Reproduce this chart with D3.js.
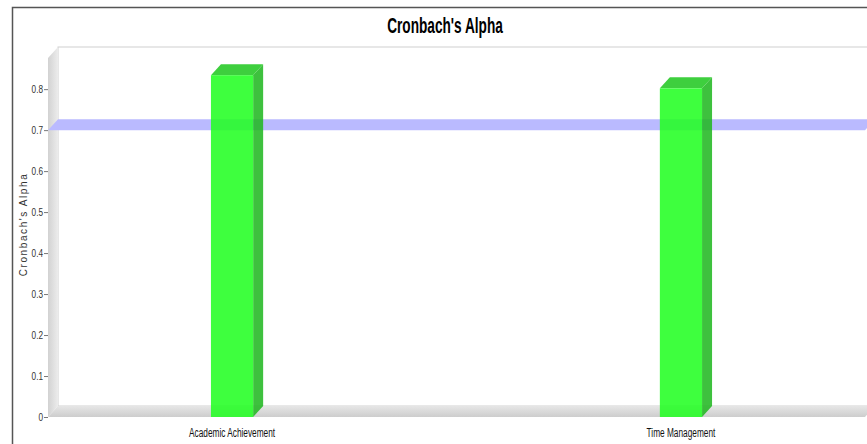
<!DOCTYPE html>
<html>
<head>
<meta charset="utf-8">
<script src="https://cdn.jsdelivr.net/npm/d3@7"></script>
<style>
  html, body { margin: 0; padding: 0; background: #fff; }
  svg { display: block; }
  text { font-family: "Liberation Sans", Arial, sans-serif; }
</style>
</head>
<body>
<div id="chart"></div>
<script>
const categories = ["Academic Achievement", "Time Management"];
const alphaValues = [0.834, 0.802];
const yTicks = [0, 0.1, 0.2, 0.3, 0.4, 0.5, 0.6, 0.7, 0.8];
const markerValues = [0.7];

const width = 867, height = 444;
const depth = { dx: 10, dy: -11 };
const plot = { left: 48, right: 865, top: 58, bottom: 417 };

const svg = d3.select("#chart").append("svg")
    .attr("width", width)
    .attr("height", height);

// squeeze text horizontally to mimic a narrow face
function condense(sel, factor) {
    sel.each(function () {
        const len = this.getComputedTextLength();
        d3.select(this)
            .attr("textLength", len * factor)
            .attr("lengthAdjust", "spacingAndGlyphs");
    });
}

const x = d3.scaleBand()
    .domain(categories)
    .range([plot.left, plot.right])
    .paddingInner(0.906)
    .paddingOuter(0.363);

const y = d3.scaleLinear()
    .domain([0, 0.876])
    .range([plot.bottom, plot.top]);

const poly = pts => pts.map(p => p.join(",")).join(" ");

// outer frame
svg.append("path")
    .attr("d", `M12.5,${height} V7.5 H${width}`)
    .attr("fill", "none")
    .attr("stroke", "#555")
    .attr("stroke-width", 1.5);

// title
svg.append("text")
    .attr("x", 445)
    .attr("y", 33)
    .attr("text-anchor", "middle")
    .attr("font-size", 22)
    .attr("font-weight", "bold")
    .attr("fill", "#000")
    .text("Cronbach's Alpha")
    .call(condense, 0.62);

const defs = svg.append("defs");
const wallGrad = defs.append("linearGradient").attr("id", "wallGrad")
    .attr("x1", 0).attr("x2", 1).attr("y1", 0).attr("y2", 0);
wallGrad.append("stop").attr("offset", "0%").attr("stop-color", "#d2d2d2");
wallGrad.append("stop").attr("offset", "100%").attr("stop-color", "#ececec");
const floorGrad = defs.append("linearGradient").attr("id", "floorGrad")
    .attr("x1", 0).attr("x2", 0).attr("y1", 0).attr("y2", 1);
floorGrad.append("stop").attr("offset", "0%").attr("stop-color", "#e6e6e6");
floorGrad.append("stop").attr("offset", "100%").attr("stop-color", "#cdcdcd");

// back wall
svg.append("rect")
    .attr("x", plot.left + depth.dx)
    .attr("y", plot.top + depth.dy)
    .attr("width", plot.right - plot.left)
    .attr("height", plot.bottom - plot.top)
    .attr("fill", "#fff")
    .attr("stroke", "#d0d0d0");

// left wall
svg.append("polygon")
    .attr("points", poly([
        [plot.left, plot.bottom], [plot.left, plot.top],
        [plot.left + depth.dx, plot.top + depth.dy], [plot.left + depth.dx, plot.bottom + depth.dy]
    ]))
    .attr("fill", "url(#wallGrad)");

// floor
svg.append("polygon")
    .attr("points", poly([
        [plot.left, plot.bottom], [plot.right, plot.bottom],
        [plot.right + depth.dx, plot.bottom + depth.dy], [plot.left + depth.dx, plot.bottom + depth.dy]
    ]))
    .attr("fill", "url(#floorGrad)");

// 0.7 reference marker
svg.append("g").selectAll("polygon")
    .data(markerValues)
    .enter().append("polygon")
    .attr("points", v => poly([
        [plot.left, y(v)], [plot.right, y(v)],
        [plot.right + depth.dx, y(v) + depth.dy], [plot.left + depth.dx, y(v) + depth.dy]
    ]))
    .attr("fill", "#babaff");

// bars
const bars = svg.append("g").attr("opacity", 0.87).selectAll("g")
    .data(categories.map((c, i) => ({ cat: c, value: alphaValues[i] })))
    .enter().append("g");

bars.append("polygon") // side
    .attr("points", d => {
        const x1 = x(d.cat) + x.bandwidth();
        return poly([[x1, y(0)], [x1, y(d.value)],
            [x1 + depth.dx, y(d.value) + depth.dy], [x1 + depth.dx, y(0) + depth.dy]]);
    })
    .attr("fill", "#22b822");

bars.append("polygon") // top
    .attr("points", d => {
        const x0 = x(d.cat), x1 = x0 + x.bandwidth(), yt = y(d.value);
        return poly([[x0, yt], [x1, yt], [x1 + depth.dx, yt + depth.dy], [x0 + depth.dx, yt + depth.dy]]);
    })
    .attr("fill", "#22c822");

bars.append("rect") // front
    .attr("x", d => x(d.cat))
    .attr("y", d => y(d.value))
    .attr("width", x.bandwidth())
    .attr("height", d => y(0) - y(d.value))
    .attr("fill", "#22ff22");

// y axis
const yAxis = svg.append("g")
    .attr("transform", `translate(${plot.left},0)`)
    .call(d3.axisLeft(y).tickValues(yTicks).tickFormat(d3.format("~g")).tickSize(4).tickPadding(1));
yAxis.select(".domain").remove();
yAxis.selectAll(".tick line").attr("stroke", "#777");
yAxis.selectAll(".tick text")
    .attr("font-family", null)
    .attr("font-size", 10.5)
    .attr("fill", "#333")
    .call(condense, 0.78);

svg.append("text")
    .attr("transform", `translate(27,${(plot.top + plot.bottom) / 2 - 13}) rotate(-90)`)
    .attr("text-anchor", "middle")
    .attr("font-size", 10)
    .attr("letter-spacing", 1.6)
    .attr("fill", "#333")
    .text("Cronbach's Alpha");

// category labels
svg.append("g").selectAll("text")
    .data(categories)
    .enter().append("text")
    .attr("x", d => x(d) + x.bandwidth() / 2)
    .attr("y", 437)
    .attr("text-anchor", "middle")
    .attr("font-size", 12)
    .attr("fill", "#111")
    .text(d => d)
    .call(condense, 0.69);
</script>
</body>
</html>
